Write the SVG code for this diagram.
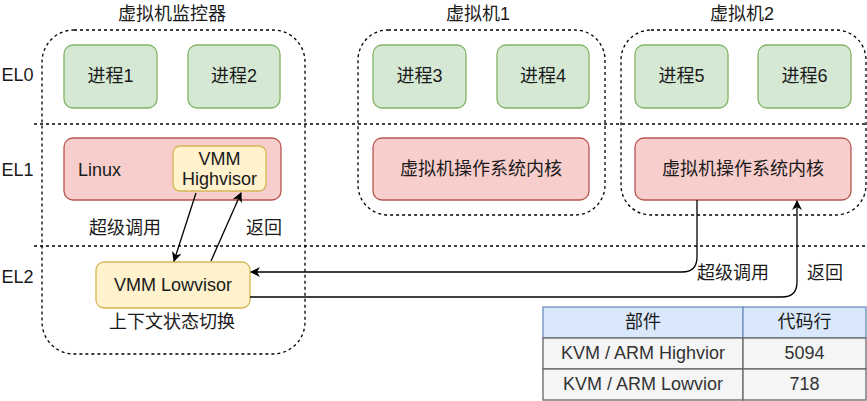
<svg xmlns="http://www.w3.org/2000/svg" width="867" height="401" viewBox="0 0 867 401">
<defs>
<style>
text{font-family:"Liberation Sans","Noto Sans CJK SC",sans-serif;font-size:18px;fill:#1a1a1a;text-anchor:middle;dominant-baseline:central}
.dash{fill:none;stroke:#000;stroke-width:1.3;stroke-dasharray:3 3}
.g{fill:#d5e8d4;stroke:#82b366;stroke-width:1.3}
.r{fill:#f8cecc;stroke:#b85450;stroke-width:1.3}
.y{fill:#fff2cc;stroke:#d6b656;stroke-width:1.3}
.c{fill:none;stroke:#000;stroke-width:1.3}
.hd{fill:#dae8fc;stroke:#6c8ebf;stroke-width:1.3}
.bd{fill:#f5f5f5;stroke:#666;stroke-width:1.3}
.tb{fill:#333}
</style>
<marker id="ah" viewBox="0 0 10 10" refX="9" refY="5" markerWidth="10" markerHeight="10" markerUnits="userSpaceOnUse" orient="auto">
<path d="M0,0 L10,5 L0,10 L3,5 Z" fill="#000"/>
</marker>
</defs>
<rect width="867" height="401" fill="#fff"/>

<g id="layers">
<line class="dash" x1="34" y1="124" x2="867" y2="124"/>
<line class="dash" x1="34" y1="246" x2="867" y2="246"/>
<text x="17.5" y="75">EL0</text>
<text x="17.5" y="170">EL1</text>
<text x="17.5" y="277">EL2</text>
</g>

<g id="hypervisor">
<rect class="dash" x="42" y="30" width="263" height="324" rx="32"/>
<text x="172" y="14">虚拟机监控器</text>
</g>
<g id="vm1">
<rect class="dash" x="358" y="30" width="247" height="185" rx="30"/>
<text x="478" y="14">虚拟机1</text>
</g>
<g id="vm2">
<rect class="dash" x="621" y="30" width="245" height="185" rx="30"/>
<text x="742" y="14">虚拟机2</text>
</g>

<g id="p1"><rect class="g" x="64" y="45" width="93" height="63" rx="9"/><text x="110.5" y="76">进程1</text></g>
<g id="p2"><rect class="g" x="188" y="45" width="92" height="63" rx="9"/><text x="234" y="76">进程2</text></g>
<g id="p3"><rect class="g" x="373" y="45" width="93" height="63" rx="9"/><text x="419.5" y="76">进程3</text></g>
<g id="p4"><rect class="g" x="497" y="45" width="92" height="63" rx="9"/><text x="543" y="76">进程4</text></g>
<g id="p5"><rect class="g" x="635" y="45" width="93" height="63" rx="9"/><text x="681.5" y="76">进程5</text></g>
<g id="p6"><rect class="g" x="758" y="45" width="93" height="63" rx="9"/><text x="804.5" y="76">进程6</text></g>

<g id="linux"><rect class="r" x="64" y="138" width="217" height="62" rx="9"/><text x="78" y="170" style="text-anchor:start">Linux</text></g>
<g id="highvisor"><rect class="y" x="173" y="146" width="93" height="45" rx="7"/><text x="219.5" y="159">VMM</text><text x="219.5" y="179">Highvisor</text></g>
<g id="kernel1"><rect class="r" x="373" y="138" width="216" height="62" rx="9"/><text x="481" y="169">虚拟机操作系统内核</text></g>
<g id="kernel2"><rect class="r" x="635" y="138" width="216" height="62" rx="9"/><text x="743" y="169">虚拟机操作系统内核</text></g>

<g id="lowvisor"><rect class="y" x="96" y="262" width="154" height="46" rx="8"/><text x="173" y="285">VMM Lowvisor</text><text x="172" y="322">上下文状态切换</text></g>

<g id="connectors">
<line class="c" x1="196" y1="193" x2="174" y2="261" marker-end="url(#ah)"/>
<line class="c" x1="211" y1="261" x2="241" y2="193" marker-end="url(#ah)"/>
<path class="c" d="M697,200 V257 Q697,272 682,272 H251" marker-end="url(#ah)"/>
<path class="c" d="M250,297 H782 Q797,297 797,282 V201" marker-end="url(#ah)"/>
<text x="125" y="228">超级调用</text>
<text x="264" y="228">返回</text>
<text x="733" y="273">超级调用</text>
<text x="825" y="273">返回</text>
</g>

<g id="table">
<rect class="hd" x="543" y="307" width="200" height="31"/>
<rect class="hd" x="743" y="307" width="123" height="31"/>
<rect class="bd" x="543" y="338" width="200" height="31"/>
<rect class="bd" x="743" y="338" width="123" height="31"/>
<rect class="bd" x="543" y="369" width="200" height="31"/>
<rect class="bd" x="743" y="369" width="123" height="31"/>
<text x="643" y="322">部件</text>
<text x="804.5" y="322">代码行</text>
<text class="tb" x="643" y="353">KVM / ARM Highvior</text>
<text class="tb" x="804.5" y="353">5094</text>
<text class="tb" x="643" y="384">KVM / ARM Lowvior</text>
<text class="tb" x="804.5" y="384">718</text>
</g>
</svg>
